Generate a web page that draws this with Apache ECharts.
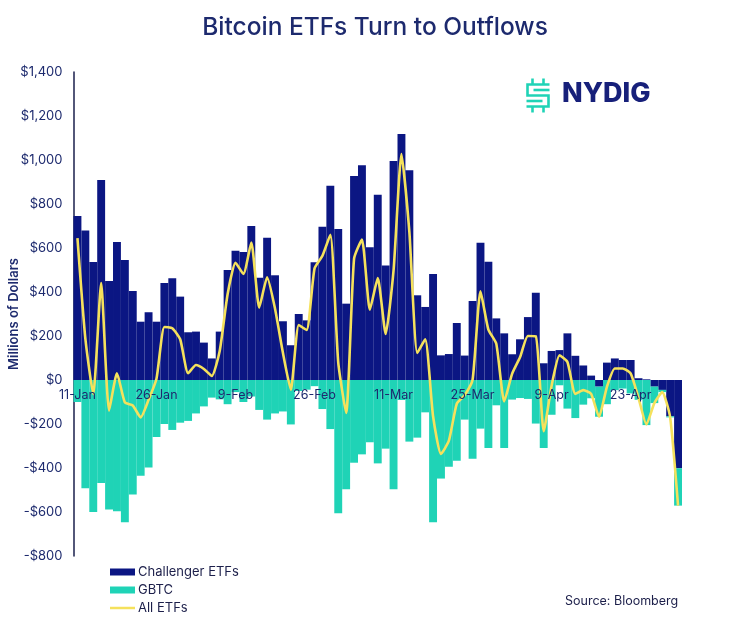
<!DOCTYPE html>
<html>
<head>
<meta charset="utf-8">
<script src="https://cdn.jsdelivr.net/npm/echarts@6/dist/echarts.min.js"></script>
<style>
html,body{margin:0;padding:0;background:#fff;}
#chart{width:750px;height:621px;}
</style>
</head>
<body>
<div id="chart"></div>
<script>
const categories = [
  '11-Jan','12-Jan','16-Jan','17-Jan','18-Jan','19-Jan','22-Jan','23-Jan','24-Jan','25-Jan',
  '26-Jan','29-Jan','30-Jan','31-Jan','1-Feb','2-Feb','5-Feb','6-Feb','7-Feb','8-Feb',
  '9-Feb','12-Feb','13-Feb','14-Feb','15-Feb','16-Feb','20-Feb','21-Feb','22-Feb','23-Feb',
  '26-Feb','27-Feb','28-Feb','29-Feb','1-Mar','4-Mar','5-Mar','6-Mar','7-Mar','8-Mar',
  '11-Mar','12-Mar','13-Mar','14-Mar','15-Mar','18-Mar','19-Mar','20-Mar','21-Mar','22-Mar',
  '25-Mar','26-Mar','27-Mar','28-Mar','1-Apr','2-Apr','3-Apr','4-Apr','5-Apr','8-Apr',
  '9-Apr','10-Apr','11-Apr','12-Apr','15-Apr','16-Apr','17-Apr','18-Apr','19-Apr','22-Apr',
  '23-Apr','24-Apr','25-Apr','26-Apr','29-Apr','30-Apr','1-May'
];
const challengerETFs = [
  745,680,536,909,450,627,545,405,265,308,
  265,441,462,379,217,220,170,98,220,500,
  588,582,700,465,647,476,267,158,300,271,
  535,697,883,686,347,927,976,603,842,521,
  995,1118,953,385,332,482,112,118,259,111,
  359,624,538,280,212,117,185,286,397,76,
  132,136,212,110,66,20,-30,79,98,91,
  91,8,3,-30,-45,-165,-401
];
const gbtc = [
  -100,-492,-600,-468,-589,-597,-647,-521,-435,-398,
  -259,-200,-227,-194,-186,-152,-120,-80,-88,-110,
  -55,-100,-75,-136,-180,-152,-143,-202,-50,-44,
  -28,-132,-223,-606,-497,-376,-338,-283,-379,-312,
  -497,-91,-280,-262,-147,-647,-448,-394,-367,-180,
  -358,-221,-309,-115,-309,-89,-82,-86,-198,-309,
  -158,-24,-130,-173,-112,-83,-137,-110,-46,-39,
  -61,-90,-205,-75,-10,-5,-170
];
const allETFs = [
  645,188,-64,441,-139,30,-102,-116,-170,-90,
  6,241,235,185,31,68,50,18,132,390,
  533,482,625,329,467,324,124,-44,250,227,
  507,565,660,80,-150,551,638,320,463,209,
  498,1027,673,123,185,-165,-336,-276,-108,-69,
  1,403,229,165,-97,28,103,200,199,-233,
  -26,112,82,-63,-46,-63,-167,-31,52,52,
  30,-82,-202,-105,-55,-170,-571
];
const yTicks = { min: -800, max: 1400, interval: 200 };

const NAVY = '#0b1683';
const TEAL = '#1fd3b6';
const YELLOW = '#f5e15c';
const TEXT = '#1d2a6e';
const FONT = 'Inter, "Noto Sans", sans-serif';

function fmtMoney(v) {
  const s = Math.abs(v).toLocaleString('en-US');
  return (v < 0 ? '-$' : '$') + s;
}

const chart = echarts.init(document.getElementById('chart'), null, { renderer: 'canvas' });
chart.setOption({
  backgroundColor: '#ffffff',
  animation: false,
  textStyle: { fontFamily: FONT },
  title: {
    text: 'Bitcoin ETFs Turn to Outflows',
    left: 'center',
    top: 10,
    textStyle: { fontFamily: FONT, fontSize: 24.5, fontWeight: 500, color: TEXT }
  },
  grid: { left: 73.5, right: 68, top: 72, bottom: 65, containLabel: false, outerBoundsMode: 'none' },
  legend: {
    orient: 'vertical',
    left: 110,
    top: 565,
    padding: 0,
    itemWidth: 25,
    itemHeight: 7,
    itemGap: 4,
    textStyle: { fontFamily: FONT, fontSize: 13, color: '#1c1f4a', lineHeight: 14, padding: [0, 0, 0, -2] },
    data: [
      { name: 'Challenger ETFs', icon: 'rect' },
      { name: 'GBTC', icon: 'rect' },
      { name: 'All ETFs', icon: 'path://M0,0 L25,0 L25,2.5 L0,2.5 Z', itemStyle: { color: YELLOW } }
    ]
  },
  xAxis: {
    type: 'category',
    data: categories,
    z: 10,
    position: 'bottom',
    offset: -176,
    axisLine: { show: false, onZero: false },
    axisTick: { show: false },
    axisLabel: {
      interval: 9,
      color: TEXT,
      fontSize: 12.5,
      fontFamily: FONT,
      margin: 9
    },
    splitLine: { show: false }
  },
  yAxis: {
    type: 'value',
    min: yTicks.min,
    max: yTicks.max,
    interval: yTicks.interval,
    name: 'Millions of Dollars',
    nameLocation: 'middle',
    nameGap: 53,
    nameMoveOverlap: false,
    nameTextStyle: { fontFamily: FONT, fontSize: 13, fontWeight: 600, color: TEXT },
    axisLine: { show: true, lineStyle: { color: '#1a1f4d', width: 1.5 } },
    axisTick: { show: false },
    splitLine: { show: false },
    axisLabel: {
      color: TEXT,
      fontSize: 13,
      fontFamily: FONT,
      margin: 11,
      formatter: fmtMoney
    }
  },
  series: [
    {
      name: 'Challenger ETFs',
      type: 'bar',
      stack: 'flows',
      data: challengerETFs,
      barCategoryGap: '0%',
      itemStyle: { color: NAVY },
      z: 2
    },
    {
      name: 'GBTC',
      type: 'bar',
      stack: 'flows',
      data: gbtc,
      barCategoryGap: '0%',
      itemStyle: { color: TEAL },
      z: 2
    },
    {
      name: 'All ETFs',
      type: 'line',
      data: allETFs,
      symbol: 'none',
      smooth: 0.18,
      lineStyle: { color: YELLOW, width: 2.6 },
      itemStyle: { color: YELLOW },
      z: 5
    }
  ],
  graphic: [
    {
      type: 'text',
      left: 565,
      top: 595,
      style: { text: 'Source: Bloomberg', fontFamily: FONT, fontSize: 12.5, fill: '#1c1f4a' }
    },
    {
      type: 'group',
      left: 524,
      top: 76,
      children: [
        { type: 'polyline', shape: { points: [[25, 7], [3, 7], [3, 18], [24, 18], [24, 29], [2, 29]] }, style: { stroke: TEAL, lineWidth: 2.6, fill: null } },
        { type: 'line', shape: { x1: 9, y1: 12.5, x2: 25, y2: 12.5 }, style: { stroke: TEAL, lineWidth: 2.6 } },
        { type: 'line', shape: { x1: 2, y1: 23.5, x2: 18, y2: 23.5 }, style: { stroke: TEAL, lineWidth: 2.6 } },
        { type: 'line', shape: { x1: 8, y1: 1, x2: 8, y2: 7 }, style: { stroke: TEAL, lineWidth: 2.6 } },
        { type: 'line', shape: { x1: 19, y1: 1, x2: 19, y2: 7 }, style: { stroke: TEAL, lineWidth: 2.6 } },
        { type: 'line', shape: { x1: 8, y1: 29, x2: 8, y2: 35 }, style: { stroke: TEAL, lineWidth: 2.6 } },
        { type: 'line', shape: { x1: 19, y1: 29, x2: 19, y2: 35 }, style: { stroke: TEAL, lineWidth: 2.6 } }
      ]
    },
    {
      type: 'text',
      left: 562,
      top: 80,
      style: { text: 'NYDIG', fontFamily: FONT, fontSize: 27, fontWeight: 800, fill: '#17207a' }
    }
  ]
});
</script>
</body>
</html>
